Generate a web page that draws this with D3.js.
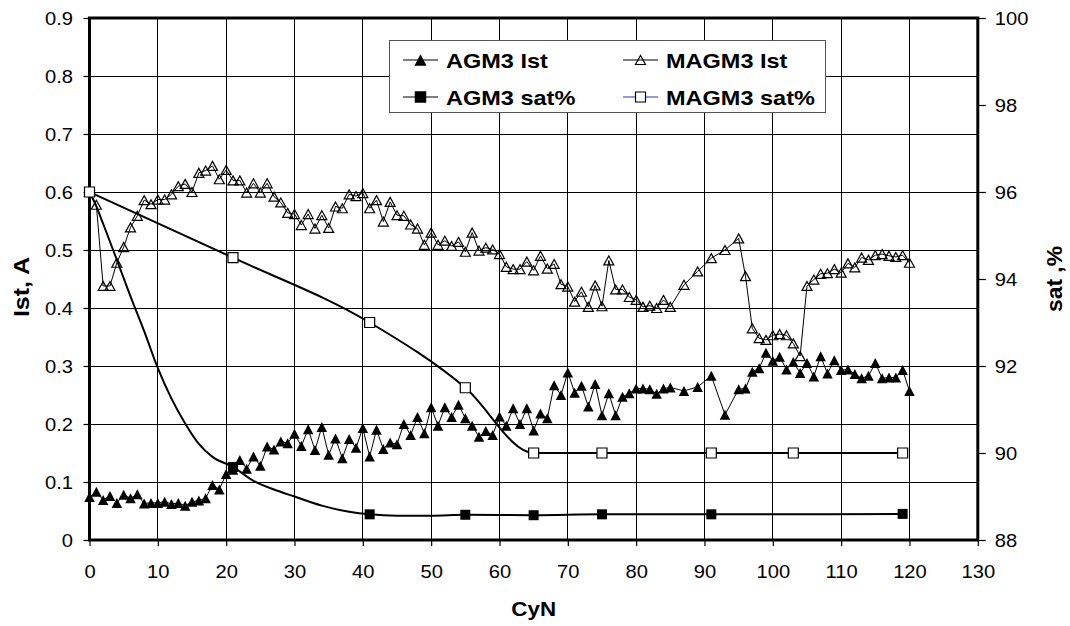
<!DOCTYPE html>
<html><head><meta charset="utf-8">
<script src="https://cdn.jsdelivr.net/npm/d3@7"></script>
<style>
html,body{margin:0;padding:0;background:#fff;}
svg{display:block;font-family:Arial,"Liberation Sans",sans-serif;}
</style></head><body>
<svg id="chart" width="1070" height="626"></svg>
<script>
// Cycle numbers sampled for the Ist series
const cycles = [0,1,2,3,4,5,6,7,8,9,10,11,12,13,14,15,16,17,18,19,20,21,22,23,24,25,26,27,28,29,30,
  31,32,33,34,35,36,37,38,39,40,41,42,43,44,45,46,47,48,49,50,51,52,53,54,55,56,57,58,59,60,
  61,62,63,64,65,66,67,68,69,70,71,72,73,74,75,76,77,78,79,80,81,82,83,84,85,87,89,91,93,95,
  96,97,98,99,100,101,102,103,104,105,106,107,108,109,110,111,112,113,114,115,116,117,118,119,120];

// Current, A
const agm3Ist = [.074,.083,.069,.076,.064,.078,.072,.079,.063,.064,.064,.066,.062,.064,.059,.066,.068,.072,.095,.087,.114,
  .121,.138,.123,.144,.128,.161,.156,.170,.167,.183,.162,.191,.155,.195,.147,.175,.141,.174,.159,.193,
  .144,.190,.157,.168,.165,.200,.181,.212,.184,.229,.197,.229,.212,.233,.210,.197,.178,.188,.181,.213,
  .197,.227,.200,.227,.189,.218,.210,.267,.250,.289,.254,.266,.230,.269,.215,.253,.215,.247,.253,.261,
  .261,.260,.252,.261,.263,.257,.264,.283,.216,.260,
  .261,.290,.296,.323,.309,.316,.294,.307,.288,.305,.282,.317,.287,.310,.293,.294,.286,.279,.283,.305,.279,.280,.280,.293,.257];

const magm3Ist = [.600,.578,.438,.438,.478,.505,.539,.559,.586,.579,.587,.587,.596,.610,.614,.600,.633,.637,.645,.622,.638,
  .620,.620,.599,.615,.599,.615,.592,.582,.564,.562,.543,.562,.537,.560,.538,.575,.572,.596,.593,.598,
  .572,.586,.549,.583,.560,.559,.544,.537,.509,.530,.509,.516,.507,.514,.497,.530,.499,.504,.501,.493,
  .471,.467,.467,.480,.465,.490,.468,.476,.441,.437,.411,.428,.402,.439,.403,.482,.432,.432,.419,.414,
  .402,.404,.400,.414,.402,.440,.463,.486,.500,.520,
  .455,.365,.348,.345,.353,.355,.353,.339,.317,.438,.449,.459,.460,.467,.461,.477,.470,.487,.483,.491,.493,.490,.488,.491,.478];

// Saturation, % (right axis)
const agm3SatCycles = [0,1,2,4,6,8,10,12,14,16,18,21,24,27,30,34,38,41,45,50,55,65,75,91,119];
const agm3Sat = [96,95.67,95.27,94.44,93.6,92.8,91.95,91.25,90.68,90.21,89.91,89.68,89.36,89.16,89.0,88.79,88.65,88.59,88.56,88.56,88.58,88.57,88.59,88.59,88.6];
const agm3SatMeasured = [0,21,41,55,65,75,91,119];

const magm3SatCycles = [0,21,41,55,65,75,91,103,119];
const magm3Sat = [96,94.49,93.0,91.5,90,90,90,90,90];

const xTicks = [0,10,20,30,40,50,60,70,80,90,100,110,120,130];
const yLeftTicks = [0,0.1,0.2,0.3,0.4,0.5,0.6,0.7,0.8,0.9];
const yRightTicks = [88,90,92,94,96,98,100];

const legendItems = [
  {label:"AGM3 Ist", marker:"triFilled", lineColor:"#000"},
  {label:"MAGM3 Ist", marker:"triOpen", lineColor:"#000"},
  {label:"AGM3 sat%", marker:"sqFilled", lineColor:"#000"},
  {label:"MAGM3 sat%", marker:"sqOpen", lineColor:"#3333b0"}
];

const plot = {left:89.5, right:977.8, top:18, bottom:540};
const STRETCH = 1.12;   // glyphs are set slightly wider than standard Arial

const svg = d3.select("#chart");
const x = d3.scaleLinear().domain([0,130]).range([plot.left, plot.right]);
const yL = d3.scaleLinear().domain([0,0.9]).range([plot.bottom, plot.top]);
const yR = d3.scaleLinear().domain([88,100]).range([plot.bottom, plot.top]);

// marker shapes, centred on the data point
const triPath = (w,h) => `M0,${-h/2}L${w/2},${h/2}L${-w/2},${h/2}Z`;
const sqPath = s => `M${-s/2},${-s/2}h${s}v${s}h${-s}Z`;
function drawMarker(g, kind, big){
  const k = big ? 1.15 : 1;
  if(kind==="triFilled") g.append("path").attr("d", triPath(10.5*k,10*k)).attr("fill","#000");
  if(kind==="triOpen") g.append("path").attr("d", triPath(10,9)).attr("fill","none").attr("stroke","#000").attr("stroke-width",1.2);
  if(kind==="sqFilled") g.append("path").attr("d", sqPath(10*k)).attr("fill","#000");
  if(kind==="sqOpen") g.append("path").attr("d", sqPath(10)).attr("fill","#fff").attr("stroke","#000").attr("stroke-width",1.2);
}

// gridlines
const grid = svg.append("g").attr("shape-rendering","crispEdges");
grid.selectAll("line.gx").data(xTicks.filter(d => d>0 && d<130)).join("line")
  .attr("x1", d=>x(d)).attr("x2", d=>x(d)).attr("y1", plot.top).attr("y2", plot.bottom)
  .attr("stroke","#000").attr("stroke-width",1);
grid.selectAll("line.gy").data(yLeftTicks.filter(d => d>0 && d<0.9)).join("line")
  .attr("y1", d=>yL(d)).attr("y2", d=>yL(d)).attr("x1", plot.left).attr("x2", plot.right)
  .attr("stroke","#000").attr("stroke-width",1);

// axes
const fs = 18;
const font = 'Arial,"Liberation Sans",sans-serif';
const gx = svg.append("g").attr("transform",`translate(0,${plot.bottom})`)
  .call(d3.axisBottom(x).tickValues(xTicks).tickSize(6).tickFormat(d3.format("d")));
gx.select(".domain").remove();
gx.selectAll(".tick line").attr("stroke","#000").attr("stroke-width",1.2);
gx.selectAll(".tick text").attr("y",38).attr("dy",null).attr("font-size",fs)
  .attr("font-family",font).attr("fill","#000")
  .attr("transform",`scale(${STRETCH},1)`);

const gyl = svg.append("g").attr("transform",`translate(${plot.left},0)`)
  .call(d3.axisLeft(yL).tickValues(yLeftTicks).tickSize(6).tickFormat(d => d===0 ? "0" : d3.format(".1f")(d)));
gyl.select(".domain").remove();
gyl.selectAll(".tick line").attr("stroke","#000").attr("stroke-width",1.2);
gyl.selectAll(".tick text").attr("x",-16.5/STRETCH).attr("dy","0.35em").attr("font-size",fs)
  .attr("font-family",font).attr("fill","#000")
  .attr("transform",`scale(${STRETCH},1)`);

const gyr = svg.append("g").attr("transform",`translate(${plot.right},0)`)
  .call(d3.axisRight(yR).tickValues(yRightTicks).tickSize(8).tickFormat(d3.format("d")));
gyr.select(".domain").remove();
gyr.selectAll(".tick line").attr("stroke","#000").attr("stroke-width",1.2);
gyr.selectAll(".tick text").attr("x",17/STRETCH).attr("dy","0.35em").attr("font-size",fs)
  .attr("font-family",font).attr("fill","#000")
  .attr("transform",`scale(${STRETCH},1)`);

// plot frame
svg.append("rect").attr("x",plot.left).attr("y",plot.top)
  .attr("width",plot.right-plot.left).attr("height",plot.bottom-plot.top)
  .attr("fill","none").attr("stroke","#000").attr("stroke-width",3);

// axis titles
svg.append("text").attr("transform",`translate(${(plot.left+plot.right)/2},616) scale(${STRETCH},1)`)
  .attr("text-anchor","middle").attr("font-size",20).attr("font-weight","bold").text("CyN");
svg.append("text").attr("transform",`translate(28.5,287) rotate(-90) scale(1.25,1.12)`)
  .attr("text-anchor","middle").attr("font-size",20).attr("font-weight","bold").text("Ist, A");
svg.append("text").attr("transform",`translate(1061.5,279) rotate(-90) scale(1.2,1.12)`)
  .attr("text-anchor","middle").attr("font-size",19).attr("font-weight","bold").text("sat  ,%");

const idx = d3.range(cycles.length);

// AGM3 Ist
svg.append("path").datum(idx)
  .attr("d", d3.line().x(i=>x(cycles[i])).y(i=>yL(agm3Ist[i])))
  .attr("fill","none").attr("stroke","#000").attr("stroke-width",1);
svg.append("g").selectAll("g").data(idx).join("g")
  .attr("transform", i=>`translate(${x(cycles[i])},${yL(agm3Ist[i])})`)
  .each(function(){ drawMarker(d3.select(this),"triFilled"); });

// MAGM3 Ist
svg.append("path").datum(idx)
  .attr("d", d3.line().x(i=>x(cycles[i])).y(i=>yL(magm3Ist[i])))
  .attr("fill","none").attr("stroke","#000").attr("stroke-width",1);
svg.append("g").selectAll("g").data(idx).join("g")
  .attr("transform", i=>`translate(${x(cycles[i])},${yL(magm3Ist[i])})`)
  .each(function(){ drawMarker(d3.select(this),"triOpen"); });

// AGM3 sat%
const satIdx = d3.range(agm3SatCycles.length);
svg.append("path").datum(satIdx)
  .attr("d", d3.line().curve(d3.curveMonotoneX).x(i=>x(agm3SatCycles[i])).y(i=>yR(agm3Sat[i])))
  .attr("fill","none").attr("stroke","#000").attr("stroke-width",2);
svg.append("g").selectAll("g").data(satIdx.filter(i => agm3SatMeasured.includes(agm3SatCycles[i]))).join("g")
  .attr("transform", i=>`translate(${x(agm3SatCycles[i])},${yR(agm3Sat[i])})`)
  .each(function(){ drawMarker(d3.select(this),"sqFilled"); });

// MAGM3 sat%
const mIdx = d3.range(magm3SatCycles.length);
svg.append("path").datum(mIdx)
  .attr("d", d3.line().curve(d3.curveMonotoneX).x(i=>x(magm3SatCycles[i])).y(i=>yR(magm3Sat[i])))
  .attr("fill","none").attr("stroke","#000").attr("stroke-width",2);
svg.append("g").selectAll("g").data(mIdx).join("g")
  .attr("transform", i=>`translate(${x(magm3SatCycles[i])},${yR(magm3Sat[i])})`)
  .each(function(){ drawMarker(d3.select(this),"sqOpen"); });

// legend
const lg = svg.append("g");
lg.append("rect").attr("x",389.5).attr("y",40.5).attr("width",436).attr("height",72)
  .attr("fill","#fff").attr("stroke","#555").attr("stroke-width",1);
const colX = [403, 623], rowY = [60, 97];
legendItems.forEach((it, k) => {
  const cx = colX[k%2], cy = rowY[Math.floor(k/2)];
  lg.append("line").attr("x1",cx).attr("x2",cx+35).attr("y1",cy).attr("y2",cy)
    .attr("stroke",it.lineColor).attr("stroke-width",1.2);
  drawMarker(lg.append("g").attr("transform",`translate(${cx+17.5},${cy})`), it.marker, true);
  lg.append("text").attr("transform",`translate(${cx+43},${cy+7.5}) scale(${STRETCH},1)`)
    .attr("font-size",21).attr("font-weight","bold").text(it.label);
});
</script>
</body></html>
